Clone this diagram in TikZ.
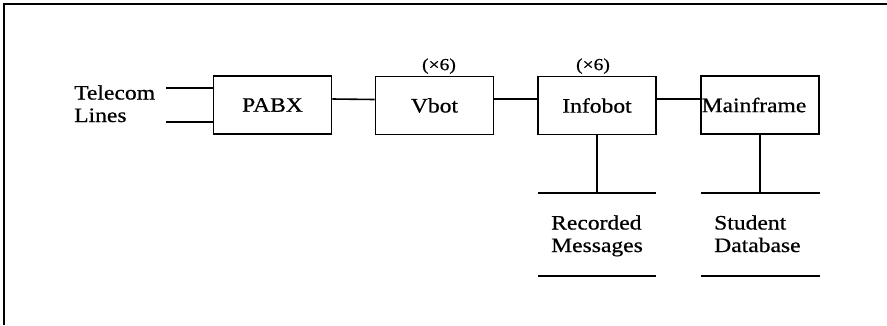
\documentclass[tikz,border=0pt]{standalone}
\usepackage{fontspec}
\setmainfont[FakeStretch=1.15, FakeBold=0.6]{Liberation Serif}
\begin{document}
\begin{tikzpicture}[x=1pt,y=-1pt,
  every node/.style={font=\fontsize{20.5}{22.5}\selectfont, inner sep=0pt},
  unit/.style={draw, line width=1.6pt, minimum width=118pt, minimum height=58pt},
  wire/.style={line width=1.6pt},
  count/.style={font=\fontsize{17}{18}\selectfont, anchor=south},
  label/.style={align=left, anchor=base west}]
\useasboundingbox (0,0) rectangle (887,325);
% open frame: top and left edges only
\draw[line width=2pt] (4,325) -- (4,4) -- (887,4);

% processing units
\node[unit] (pabx) at (272.5,105) {PABX};
\node[unit] (vbot) at (434.5,105.5) {Vbot};
\node[unit] (info) at (597,105.5) {Infobot};
\node[unit] (main) at (760,105) {\makebox[0pt]{\hspace*{-12pt}Mainframe}};

\node[count] (vcount) at (439,74) {(×6)};
\node[count] (icount) at (593,74) {(×6)};

% incoming telecom lines (base anchor sits on the last line)
\node[label] (tel) at (74,122) {Telecom\\Lines};
\coordinate (telA) at (166,88);
\coordinate (telB) at (166,122);
\draw[wire] (telA) -- (telA -| pabx.west);
\draw[wire] (telB) -- (telB -| pabx.west);

% chain of units
\draw[wire] ([yshift=6pt]pabx.east) -- ([yshift=6pt]vbot.west);
\draw[wire] ([yshift=6.5pt]vbot.east) -- ([yshift=6.5pt]info.west);
\draw[wire] ([yshift=6.5pt]info.east) -- ([yshift=6pt]main.west);

% data stores
\coordinate (recTL) at (538,193);
\coordinate (recTR) at (656,193);
\coordinate (recBL) at (538,276);
\coordinate (recBR) at (656,276);
\node[label] (rec) at (551,252) {Recorded\\Messages};
\draw[wire] (recTL) -- (recTR);
\draw[wire] (recBL) -- (recBR);
\draw[wire] (info.south) -- (info.south |- recTL);

\coordinate (dbTL) at (701,193);
\coordinate (dbTR) at (820,193);
\coordinate (dbBL) at (701,276);
\coordinate (dbBR) at (820,276);
\node[label] (db) at (714,252) {Student\\Database};
\draw[wire] (dbTL) -- (dbTR);
\draw[wire] (dbBL) -- (dbBR);
\draw[wire] (main.south) -- (main.south |- dbTL);
\end{tikzpicture}
\end{document}
